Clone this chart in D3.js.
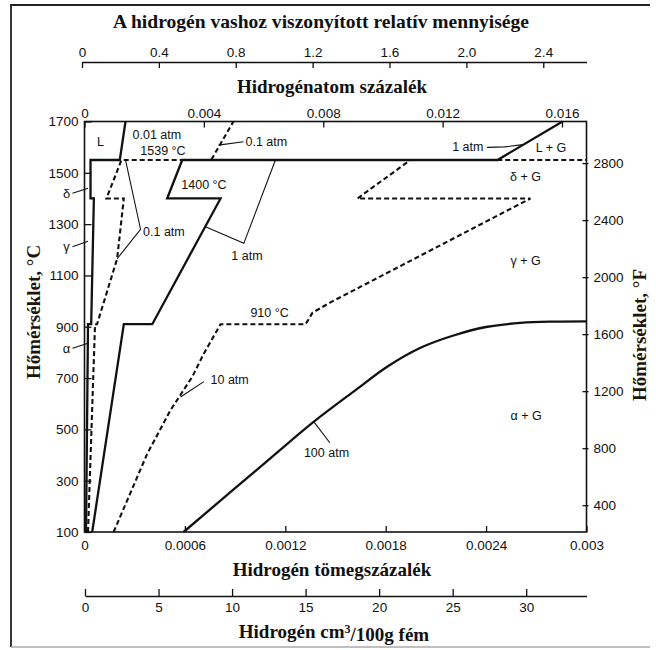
<!DOCTYPE html>
<html>
<head>
<meta charset="utf-8">
<script src="https://d3js.org/d3.v7.min.js"></script>
<style>
  body { margin: 0; background: #fff; }
  #chart { width: 656px; height: 650px; }
  .axis .tick text { font-family: "Liberation Sans", Arial, sans-serif; font-size: 13.5px; fill: #111; }
  .axis line, .axis path { stroke: #111; stroke-width: 1.3; }
  .ann { font-family: "Liberation Sans", Arial, sans-serif; font-size: 12.5px; fill: #111; }
  .title { font-family: "Liberation Serif", "Times New Roman", serif; font-weight: bold; font-size: 19px; fill: #111; }
  .leader { fill: none; stroke: #111; stroke-width: 1.1; }
</style>
</head>
<body>
<div id="chart"></div>
<script>
// tick values for the six scales
const tempTicksC = [100, 300, 500, 700, 900, 1100, 1300, 1500, 1700];
const tempTicksF = [400, 800, 1200, 1600, 2000, 2400, 2800];
const wtTicks = [0, 0.0006, 0.0012, 0.0018, 0.0024, 0.003];
const atomTicks = [0, 0.004, 0.008, 0.012, 0.016];
const relTicks = [0, 0.4, 0.8, 1.2, 1.6, 2.0, 2.4];
const volTicks = [0, 5, 10, 15, 20, 25, 30];

// solubility curves, [weight %, °C]
const atm001 = [[0.000009, 100], [0.000021, 910], [0.00004, 910], [0.000056, 1400], [0.000036, 1400],
    [0.000036, 1550], [0.000211, 1550], [0.000245, 1700]];
const atm01 = [[0.000021, 100], [0.000063, 910], [0.000075, 910], [0.000195, 1165], [0.000235, 1400],
    [0.000131, 1400], [0.000221, 1550], [0.000757, 1550], [0.00089, 1700]];
const atm1 = [[0.000046, 100], [0.000235, 910], [0.000405, 910], [0.000813, 1400], [0.000494, 1400],
    [0.000584, 1550], [0.002468, 1550], [0.002857, 1700]];
const atm10 = [[0.000174, 100], [0.000375, 405], [0.000514, 575], [0.000574, 635], [0.000644, 705],
    [0.000713, 795], [0.000813, 910], [0.001321, 910], [0.001363, 955], [0.00147, 995], [0.002665, 1400],
    [0.001631, 1400], [0.001948, 1550], [0.003, 1550]];
const atm100 = [[0.000592, 100], [0.001112, 388], [0.001369, 529], [0.00162, 653], [0.001811, 745],
    [0.002008, 818], [0.002205, 866], [0.002408, 900], [0.002606, 915], [0.002803, 920], [0.003, 921]];

class SolubilityChart {

    constructor(opts) {
        Object.assign(this, opts);
        this.appendElements();
        this.update();
    }

    update() {
        this._setDimensions();
        this._setScales();
        this.render();
    }

    _setDimensions() {
        this.width = 656;
        this.height = 650;
        // the plotting box, in px
        this.box = { left: 84.5, right: 586.5, top: 121.5, bottom: 532 };
    }

    _setScales() {
        const b = this.box;
        this.xScale = d3.scaleLinear().domain([0, 0.003]).range([b.left, b.right]);
        this.yScale = d3.scaleLinear().domain([100, 1700]).range([b.bottom, b.top]);
        // °F scale is the same °C scale, converted
        this.fScale = d3.scaleLinear().domain([100 * 9 / 5 + 32, 1700 * 9 / 5 + 32]).range([b.bottom, b.top]);
        this.atomScale = d3.scaleLinear().domain([0, 0.016]).range([b.left, 562]);
        this.relScale = d3.scaleLinear().domain([0, 2.625]).range([82, b.right]);
        this.volScale = d3.scaleLinear().domain([0, 34.1]).range([85, b.right]);
    }

    appendElements() {
        this.svg = d3.select(this.element).append("svg");
        this.plot = this.svg.append("g");
        this.axes = this.plot.append("g");
        this.curves = this.plot.append("g");
        this.notes = this.plot.append("g");
        this.titles = this.plot.append("g");
    }

    render() {
        const b = this.box, x = this.xScale, y = this.yScale;
        this.svg.attr("width", this.width).attr("height", this.height);

        // outer border
        this.plot.append("path")
            .attr("d", `M11,647 V5 H650`)
            .attr("fill", "none").attr("stroke", "#222").attr("stroke-width", 1.8);
        this.plot.append("path")
            .attr("d", `M11,647 H650`)
            .attr("fill", "none").attr("stroke", "#aaa").attr("stroke-width", 1.5);

        // axes
        const left = this.axes.append("g").attr("class", "axis")
            .attr("transform", `translate(${b.left},0)`)
            .call(d3.axisLeft(y).tickValues(tempTicksC).tickSizeInner(-7).tickSizeOuter(0).tickPadding(6).tickFormat(String));
        left.select(".domain").remove();

        const right = this.axes.append("g").attr("class", "axis")
            .attr("transform", `translate(${b.right},0)`)
            .call(d3.axisRight(this.fScale).tickValues(tempTicksF).tickSizeInner(-4).tickSizeOuter(0).tickPadding(7).tickFormat(String));
        right.select(".domain").remove();
        right.selectAll(".tick line").attr("x1", 2);

        const bottom = this.axes.append("g").attr("class", "axis")
            .attr("transform", `translate(0,${b.bottom})`)
            .call(d3.axisBottom(x).tickValues(wtTicks).tickSizeInner(-6).tickSizeOuter(0).tickPadding(8).tickFormat(String));
        bottom.select(".domain").remove();

        const top = this.axes.append("g").attr("class", "axis")
            .attr("transform", `translate(0,${b.top})`)
            .call(d3.axisTop(this.atomScale).tickValues(atomTicks).tickSizeInner(-6).tickSizeOuter(0).tickPadding(4).tickFormat(String));
        top.select(".domain").remove();

        this.axes.append("g").attr("class", "axis")
            .attr("transform", "translate(0,62)")
            .call(d3.axisTop(this.relScale).tickValues(relTicks).tickSizeInner(-6).tickSizeOuter(0).tickPadding(5)
                .tickFormat(d => d === 0 ? "0" : d3.format(".1f")(d)));

        this.axes.append("g").attr("class", "axis")
            .attr("transform", "translate(0,596)")
            .call(d3.axisBottom(this.volScale).tickValues(volTicks).tickSizeInner(-7).tickSizeOuter(0).tickPadding(6).tickFormat(String));

        this.axes.selectAll(".axis .domain").attr("stroke-width", 1.6);

        // plot frame
        this.axes.append("rect")
            .attr("x", b.left).attr("y", b.top)
            .attr("width", b.right - b.left).attr("height", b.bottom - b.top)
            .attr("fill", "none").attr("stroke", "#111").attr("stroke-width", 1.6);

        // curves
        const line = d3.line().x(d => x(d[0])).y(d => y(d[1]));
        const smooth = d3.line().x(d => x(d[0])).y(d => y(d[1])).curve(d3.curveCatmullRom.alpha(0.5));
        const solid = [atm001, atm1];
        const dashed = [atm01, atm10];

        this.curves.selectAll(".solid").data(solid).join("path")
            .attr("class", "solid").attr("d", line)
            .attr("fill", "none").attr("stroke", "#111").attr("stroke-width", 2.3)
            .attr("stroke-linejoin", "miter");
        this.curves.selectAll(".dashed").data(dashed).join("path")
            .attr("class", "dashed").attr("d", line)
            .attr("fill", "none").attr("stroke", "#111").attr("stroke-width", 2.1)
            .attr("stroke-dasharray", "5,3");
        this.curves.append("path").datum(atm100)
            .attr("d", smooth)
            .attr("fill", "none").attr("stroke", "#111").attr("stroke-width", 2.3);

        // leader lines (data units)
        const leaders = [
            [[0.000801, 1608], [0.00095, 1621]],
            [[0.000245, 1550], [0.000335, 1280], [0.000195, 1165]],
            [[0.000723, 1290], [0.000952, 1225], [0.001141, 1550]],
            [[0.000713, 686], [0.000574, 626]],
            [[0.00137, 530], [0.001466, 448]],
            [[0.002406, 1599], [0.00251, 1601], [0.002618, 1610]]
        ];
        this.notes.selectAll(".leader").data(leaders).join("path")
            .attr("class", "leader").attr("d", line);

        // labels placed in data units
        const labels = [
            { t: "L", wt: 0.000096, c: 1621, a: "middle" },
            { t: "0.01 atm", wt: 0.000287, c: 1651, a: "start" },
            { t: "1539 °C", wt: 0.000469, c: 1586, a: "middle" },
            { t: "0.1 atm", wt: 0.000962, c: 1621, a: "start" },
            { t: "1400 °C", wt: 0.000714, c: 1456, a: "middle" },
            { t: "0.1 atm", wt: 0.00035, c: 1270, a: "start" },
            { t: "1 atm", wt: 0.000971, c: 1176, a: "middle" },
            { t: "910 °C", wt: 0.001106, c: 957, a: "middle" },
            { t: "10 atm", wt: 0.000753, c: 696, a: "start" },
            { t: "100 atm", wt: 0.001446, c: 408, a: "middle" },
            { t: "1 atm", wt: 0.002197, c: 1602, a: "start" },
            { t: "L + G", wt: 0.002788, c: 1597, a: "middle" },
            { t: "δ + G", wt: 0.002636, c: 1485, a: "middle" },
            { t: "γ + G", wt: 0.002636, c: 1160, a: "middle" },
            { t: "α + G", wt: 0.002639, c: 556, a: "middle" }
        ];
        this.notes.selectAll(".ann").data(labels).join("text")
            .attr("class", "ann")
            .attr("x", d => x(d.wt)).attr("y", d => y(d.c))
            .attr("dy", "0.36em")
            .attr("text-anchor", d => d.a)
            .text(d => d.t);

        // phase letters just left of the °C axis
        const phases = [{ t: "δ", c: 1420, to: 1440 }, { t: "γ", c: 1212, to: 1233 }, { t: "α", c: 816, to: 836 }];
        const ph = this.notes.selectAll(".phase").data(phases).join("g").attr("class", "phase");
        ph.append("text").attr("class", "ann")
            .attr("x", b.left - 18).attr("y", d => y(d.c)).attr("dy", "0.36em")
            .attr("text-anchor", "middle").style("font-size", "13px").text(d => d.t);
        ph.append("line").attr("class", "leader")
            .attr("x1", b.left - 12).attr("y1", d => y(d.c))
            .attr("x2", b.left + 3.5).attr("y2", d => y(d.to));

        // titles
        this.titles.append("text").attr("class", "title")
            .attr("x", 321).attr("y", 28).attr("text-anchor", "middle")
            .attr("textLength", 416).attr("lengthAdjust", "spacingAndGlyphs")
            .text("A hidrogén vashoz viszonyított relatív mennyisége");
        this.titles.append("text").attr("class", "title")
            .attr("x", 332).attr("y", 93).attr("text-anchor", "middle")
            .text("Hidrogénatom százalék");
        this.titles.append("text").attr("class", "title")
            .attr("x", 332).attr("y", 576).attr("text-anchor", "middle")
            .text("Hidrogén tömegszázalék");
        const vol = this.titles.append("text").attr("class", "title")
            .attr("x", 334).attr("y", 638).attr("text-anchor", "middle");
        vol.append("tspan").text("Hidrogén cm");
        vol.append("tspan").attr("dy", "-0.4em").style("font-size", "12px").text("3");
        vol.append("tspan").attr("dy", "0.4em").text("/100g fém");

        this.titles.append("text").attr("class", "title")
            .attr("transform", "translate(40,312) rotate(-90)")
            .attr("text-anchor", "middle").style("fill", "#1e1408")
            .text("Hőmérséklet, °C");
        this.titles.append("text").attr("class", "title")
            .attr("transform", "translate(646,335) rotate(-90)")
            .attr("text-anchor", "middle").style("fill", "#1e1408")
            .text("Hőmérséklet, °F");
    }
}

new SolubilityChart({ element: document.getElementById("chart") });
</script>
</body>
</html>
